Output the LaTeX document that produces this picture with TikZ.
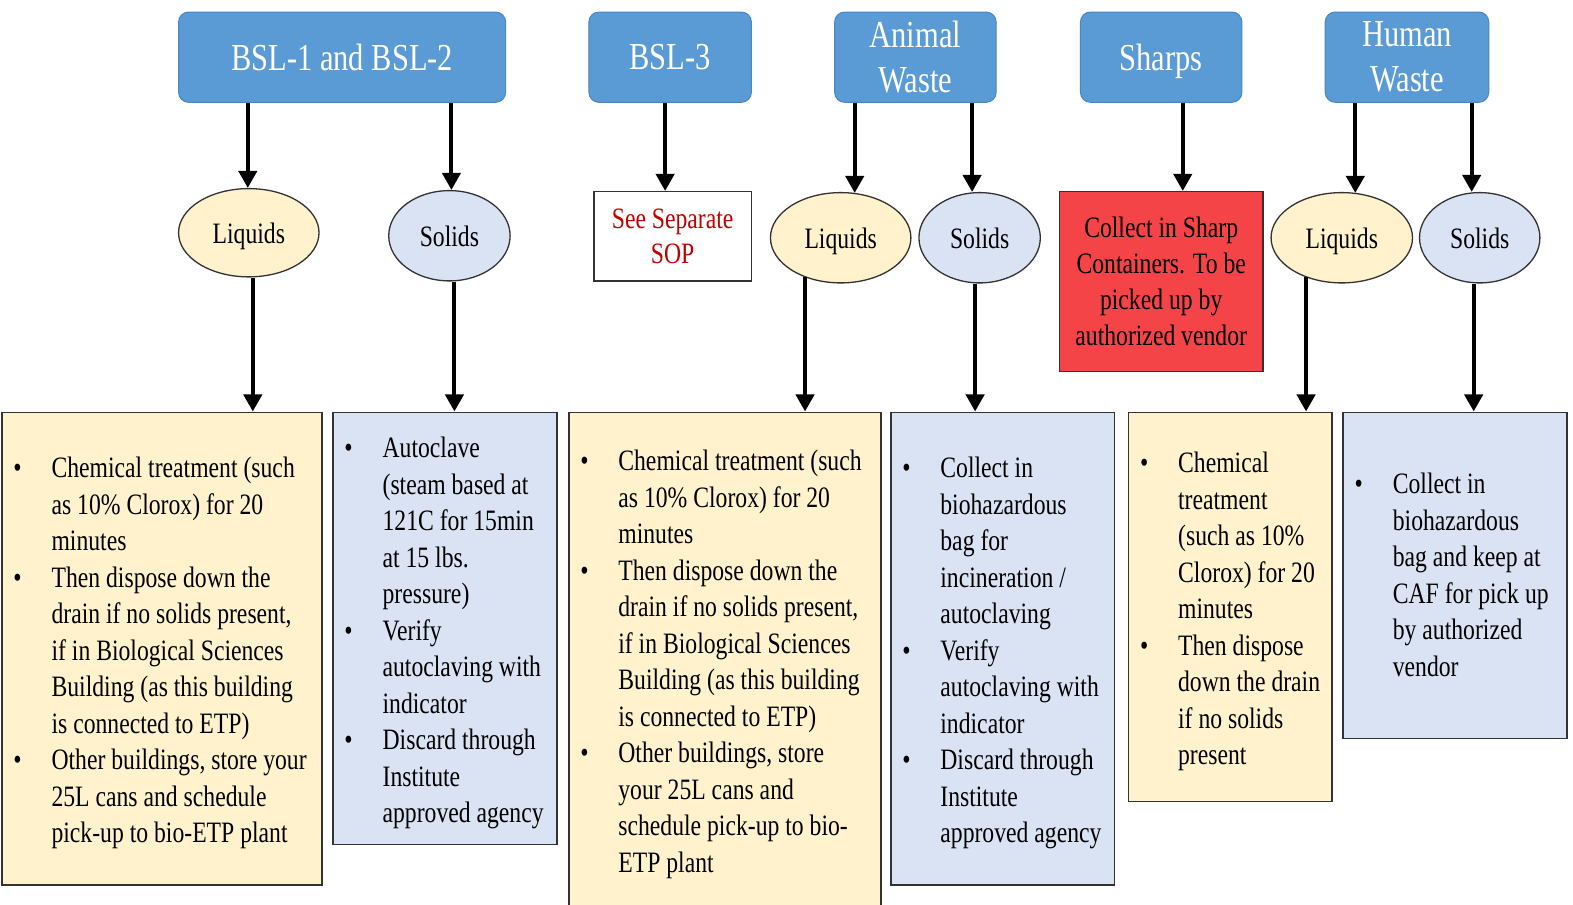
\documentclass[tikz,border=0pt]{standalone}
\usepackage{fontspec}
\setmainfont{Liberation Serif}[FakeStretch=0.8]
\usetikzlibrary{arrows.meta,shapes.geometric,calc}
\definecolor{hdrblue}{HTML}{5B9BD5}
\definecolor{hdredge}{HTML}{4A86C0}
\definecolor{liqfill}{HTML}{FFF2CC}
\definecolor{solfill}{HTML}{DAE3F3}
\definecolor{sharpred}{HTML}{F54448}
\definecolor{sopred}{HTML}{C00000}
\definecolor{edgegray}{HTML}{333333}
\newcommand{\bodyfont}{\fontsize{29.5}{36.4}\selectfont}
\newcommand{\hdfont}{\fontsize{38}{45}\selectfont}
\tikzset{
  hdr/.style={rectangle, rounded corners=10pt, fill=hdrblue, draw=hdredge, line width=1pt,
    text=white, font=\hdfont, align=center, inner sep=0pt},
  liq/.style={ellipse, fill=liqfill, draw=edgegray, line width=1.3pt, inner sep=0pt, font=\bodyfont, text depth=0pt},
  sol/.style={ellipse, fill=solfill, draw=edgegray, line width=1.3pt, inner sep=0pt, font=\bodyfont, text depth=0pt},
  lbox/.style={rectangle, draw=edgegray, line width=1.6pt, inner sep=0pt},
  lst/.style={inner sep=0pt, anchor=base west, font=\bodyfont},
  arr/.style={line width=4pt, -{Triangle[width=18pt,length=17pt]}},
}
\begin{document}
\begin{tikzpicture}[x=1pt,y=-1pt]
\useasboundingbox (0,0) rectangle (1568,902);
\fill[white] (0,0) rectangle (1568,902);

% headers
\node[hdr, text depth=0pt, minimum width=326pt, minimum height=90pt] (H1) at (341,57) {BSL-1 and BSL-2};
\node[hdr, text depth=0pt, minimum width=162pt, minimum height=90pt] (H2) at (668,57) {BSL-3};
\node[hdr, minimum width=161pt, minimum height=90pt] (H3) at (912.5,57) {Animal\\Waste};
\node[hdr, text depth=0pt, minimum width=161pt, minimum height=90pt] (H4) at (1157.5,57) {Sharps};
\node[hdr, minimum width=163pt, minimum height=90pt] (H5) at (1402.5,57) {Human\\Waste};

% second row
\node[liq, minimum width=140pt, minimum height=88pt] (L1) at (248,232) {Liquids};
\node[sol, minimum width=121pt, minimum height=90pt] (S1) at (448,235) {Solids};
\node[rectangle, draw=edgegray, line width=1.3pt, fill=white, minimum width=157pt, minimum height=89pt,
  inner sep=0pt, text=sopred, font=\fontsize{29.5}{35}\selectfont, align=center] (SOP) at (670.5,235.5) {See Separate\\SOP};
\node[liq, minimum width=140pt, minimum height=90pt] (L2) at (838,237) {Liquids};
\node[sol, minimum width=121pt, minimum height=90pt] (S2) at (976.5,237) {Solids};
\node[rectangle, draw=edgegray, line width=1.3pt, fill=sharpred, minimum width=203pt, minimum height=179pt,
  inner sep=0pt, font=\fontsize{29.5}{35.7}\selectfont, align=center] (RED) at (1157.5,280.5)
  {Collect in Sharp\\Containers. To be\\picked up by\\authorized vendor};
\node[liq, minimum width=141pt, minimum height=90pt] (L3) at (1337.5,237) {Liquids};
\node[sol, minimum width=120pt, minimum height=90pt] (S3) at (1475,237) {Solids};

% bottom boxes
\node[lbox, fill=liqfill, minimum width=319pt, minimum height=471pt] (B1) at (161.5,646.5) {};
\node[lbox, fill=solfill, minimum width=223pt, minimum height=431pt] (B2) at (443.5,626.5) {};
\node[lbox, fill=liqfill, minimum width=311pt, minimum height=499pt] (B3) at (722.5,660.5) {};
\node[lbox, fill=solfill, minimum width=223pt, minimum height=471pt] (B4) at (999.5,646.5) {};
\node[lbox, fill=liqfill, minimum width=203pt, minimum height=388pt] (B5) at (1226.5,605) {};
\node[lbox, fill=solfill, minimum width=223pt, minimum height=325pt] (B6) at (1450.5,573.5) {};

\node[lst] (T1) at ([xshift=12pt,yshift=-66pt]B1.north west) {\begin{tabular}[t]{@{}p{38pt}@{}l@{}}
\textbullet & Chemical treatment (such\\
 & as 10\% Clorox) for 20\\
 & minutes\\
\textbullet & Then dispose down the\\
 & drain if no solids present,\\
 & if in Biological Sciences\\
 & Building (as this building\\
 & is connected to ETP)\\
\textbullet & Other buildings, store your\\
 & 25L cans and schedule\\
 & pick-up to bio-ETP plant
\end{tabular}};

\node[lst] (T2) at ([xshift=12pt,yshift=-46pt]B2.north west) {\begin{tabular}[t]{@{}p{38pt}@{}l@{}}
\textbullet & Autoclave\\
 & (steam based at\\
 & 121C for 15min\\
 & at 15 lbs.\\
 & pressure)\\
\textbullet & Verify\\
 & autoclaving with\\
 & indicator\\
\textbullet & Discard through\\
 & Institute\\
 & approved agency
\end{tabular}};

\node[lst] (T3) at ([xshift=12pt,yshift=-59pt]B3.north west) {\begin{tabular}[t]{@{}p{38pt}@{}l@{}}
\textbullet & Chemical treatment (such\\
 & as 10\% Clorox) for 20\\
 & minutes\\
\textbullet & Then dispose down the\\
 & drain if no solids present,\\
 & if in Biological Sciences\\
 & Building (as this building\\
 & is connected to ETP)\\
\textbullet & Other buildings, store\\
 & your 25L cans and\\
 & schedule pick-up to bio-\\
 & ETP plant
\end{tabular}};

\node[lst] (T4) at ([xshift=12pt,yshift=-66pt]B4.north west) {\begin{tabular}[t]{@{}p{38pt}@{}l@{}}
\textbullet & Collect in\\
 & biohazardous\\
 & bag for\\
 & incineration /\\
 & autoclaving\\
\textbullet & Verify\\
 & autoclaving with\\
 & indicator\\
\textbullet & Discard through\\
 & Institute\\
 & approved agency
\end{tabular}};

\node[lst] (T5) at ([xshift=12pt,yshift=-61pt]B5.north west) {\begin{tabular}[t]{@{}p{38pt}@{}l@{}}
\textbullet & Chemical\\
 & treatment\\
 & (such as 10\%\\
 & Clorox) for 20\\
 & minutes\\
\textbullet & Then dispose\\
 & down the drain\\
 & if no solids\\
 & present
\end{tabular}};

\node[lst] (T6) at ([xshift=12pt,yshift=-82pt]B6.north west) {\begin{tabular}[t]{@{}p{38pt}@{}l@{}}
\textbullet & Collect in\\
 & biohazardous\\
 & bag and keep at\\
 & CAF for pick up\\
 & by authorized\\
 & vendor
\end{tabular}};

% arrows header -> second row
\draw[arr] ([xshift=-1pt]L1.north |- H1.south) -- ([xshift=-1pt]L1.north);
\draw[arr] ([xshift=2pt]S1.north |- H1.south) -- ([xshift=2pt]S1.north);
\draw[arr] ([xshift=-7.5pt]SOP.north |- H2.south) -- ([xshift=-7.5pt]SOP.north);
\draw[arr] ([xshift=14pt]L2.north |- H3.south) -- ([xshift=14pt,yshift=-1pt]L2.north);
\draw[arr] ([xshift=-7.5pt]S2.north |- H3.south) -- ([xshift=-7.5pt]S2.north);
\draw[arr] ([xshift=21.5pt]RED.north |- H4.south) -- ([xshift=21.5pt]RED.north);
\draw[arr] ([xshift=13.5pt]L3.north |- H5.south) -- ([xshift=13.5pt,yshift=-1pt]L3.north);
\draw[arr] ([xshift=-8pt]S3.north |- H5.south) -- ([xshift=-8pt]S3.north);

% arrows second row -> boxes
\draw[arr] ([xshift=4pt]L1.south) -- ([xshift=4pt]L1.south |- B1.north);
\draw[arr] ([xshift=5pt]S1.south) -- ([xshift=5pt]S1.south |- B2.north);
\draw[arr] (L2.-132) -- (L2.-132 |- B3.north);
\draw[arr] ([xshift=-4.5pt]S2.south) -- ([xshift=-4.5pt]S2.south |- B4.north);
\draw[arr] (L3.-132) -- (L3.-132 |- B5.north);
\draw[arr] ([xshift=-6pt]S3.south) -- ([xshift=-6pt]S3.south |- B6.north);
\end{tikzpicture}
\end{document}
